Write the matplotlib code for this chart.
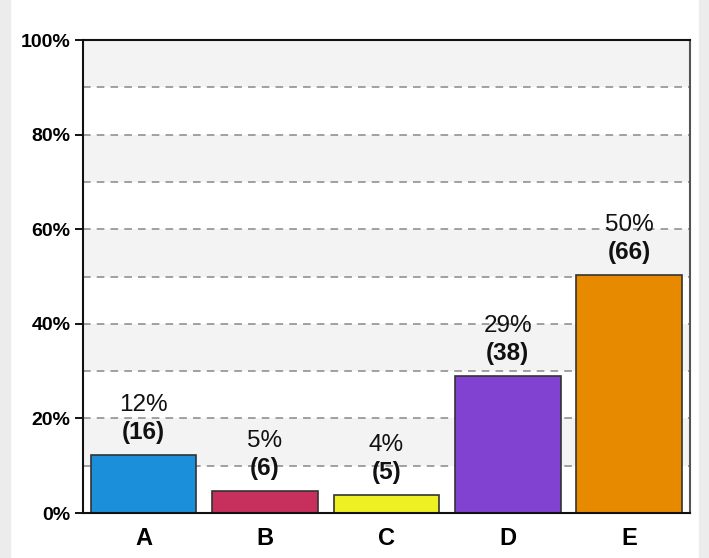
import matplotlib.pyplot as plt
from matplotlib.patches import Rectangle

plt.rcParams['font.family'] = ['Liberation Sans', 'DejaVu Sans']

# data
categories = ['A', 'B', 'C', 'D', 'E']
counts = [16, 6, 5, 38, 66]
pct_labels = ['12%', '5%', '4%', '29%', '50%']
colors = ['#1b8fd9', '#c7305c', '#eef023', '#8141d1', '#e88a00']

total = sum(counts)
values = [c / total * 100 for c in counts]

fig = plt.figure(figsize=(7.09, 5.58), dpi=100)
# light grey strips at the page edges
fig.patches.append(Rectangle((0, 0), 0.014, 1, transform=fig.transFigure,
                             color='#ececec', zorder=0))
fig.patches.append(Rectangle((0.986, 0), 0.014, 1, transform=fig.transFigure,
                             color='#ececec', zorder=0))

ax = fig.add_axes([0.117, 0.0806, 0.856, 0.8476])
ax.set_xlim(-0.5, 4.5)
ax.set_ylim(0, 100)

# alternating bands + dashed grid
for lo in range(10, 100, 20):
    ax.axhspan(lo, lo + 10, color='#f3f3f3', zorder=0, lw=0)
for y in range(10, 100, 10):
    ax.axhline(y, color='#888888', ls=(0, (5, 4)), lw=1.1, zorder=1)

x = range(len(categories))
ax.bar(x, values, width=0.87, color=colors, edgecolor='#333333',
       linewidth=1.2, zorder=2)

for i, v in enumerate(values):
    ax.annotate('(%d)' % counts[i], (i, v), xytext=(0, 8),
                textcoords='offset points', ha='center', va='bottom',
                fontsize=17.5, fontweight='bold', color='#111111')
    ax.annotate(pct_labels[i], (i, v), xytext=(0, 28),
                textcoords='offset points', ha='center', va='bottom',
                fontsize=17.5, color='#111111')

ax.set_yticks(range(0, 101, 20))
ax.set_yticklabels(['%d%%' % t for t in range(0, 101, 20)],
                   fontsize=14, fontweight='bold')
ax.set_xticks(list(x))
ax.set_xticklabels(categories, fontsize=17, fontweight='bold')
ax.tick_params(axis='y', length=6, width=1.3, pad=3)
ax.tick_params(axis='x', length=0, pad=10)

for s in ax.spines.values():
    s.set_linewidth(1.5)
    s.set_color('#111111')
ax.spines['right'].set_color('#555555')

fig.savefig('out.png', dpi=100)
plt.close()
